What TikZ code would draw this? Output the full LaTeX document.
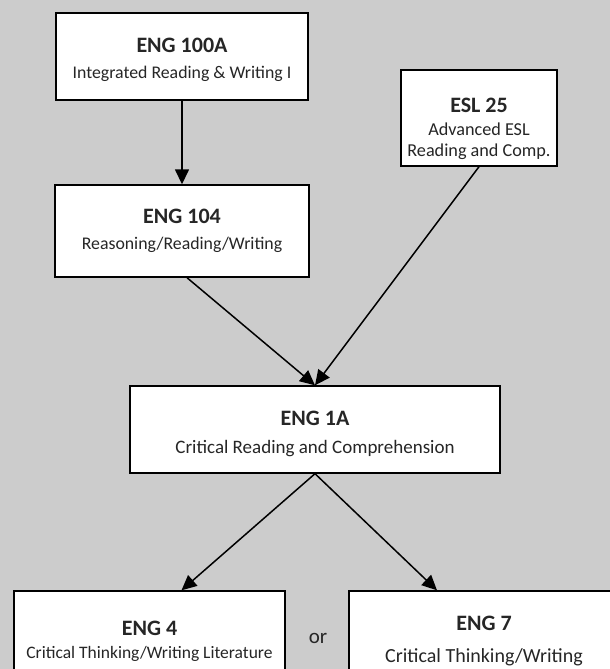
\documentclass[tikz,border=0pt]{standalone}
\usepackage{fontspec}
\setmainfont{Carlito}
\usetikzlibrary{positioning, arrows.meta}

\definecolor{panel}{RGB}{204,204,204}
\definecolor{ink}{RGB}{38,38,38}
\newcommand{\crstitle}{\fontsize{22}{26}\selectfont\bfseries}

\begin{document}
\begin{tikzpicture}[x=1pt, y=-1pt,
    course/.style={draw=black, fill=white, line width=1.4pt, align=center, text=ink, inner sep=0pt},
    conn/.style={line width=1.5pt, -{Triangle[length=15pt,width=14pt]}}]
            % fondo gris, recortado al tamano de la figura
            \useasboundingbox (0,0) rectangle (610,669);
            \clip (0,0) rectangle (610,669);
            \fill[panel] (0,0) rectangle (610,669);

            % cursos: \node[course, tamano] (nombre) at (x,y) {titulo \\ descripcion};
            \node[course, minimum width=252pt, minimum height=87pt, font=\fontsize{17.8}{26}\selectfont] (eng100a) at (182,56.5) {{\crstitle\rule{0pt}{22pt}ENG 100A}\\Integrated Reading \& Writing I};
            \node[course, minimum width=254pt, minimum height=92pt, font=\fontsize{17.8}{26}\selectfont] (eng104) at (182,231) {{\crstitle ENG 104}\\Reasoning/Reading/Writing};
            \node[course, minimum width=156pt, minimum height=96pt, font=\fontsize{18.2}{21}\selectfont] (esl25) at (479,118) {{\crstitle\rule{0pt}{36pt}ESL 25}\\[2pt]Advanced ESL\\Reading and Comp.};

            \node[course, minimum width=370pt, minimum height=87pt, font=\fontsize{19}{28}\selectfont] (eng1a) at (315,429.5) {{\crstitle\rule{0pt}{24pt}ENG 1A}\\Critical Reading and Comprehension};

            \node[course, minimum width=271pt, minimum height=100pt, font=\fontsize{17.5}{23}\selectfont] (eng4) at (149.5,641) {{\crstitle ENG 4}\\Critical Thinking/Writing Literature};
            \node[course, minimum width=270pt, minimum height=100pt, font=\fontsize{20}{32}\selectfont] (eng7) at (484,641) {{\crstitle ENG 7}\\Critical Thinking/Writing};
            \node[text=ink, font=\fontsize{21}{24}\selectfont] (or) at (318,638) {or};

            \draw[conn] (eng100a) -- (eng104);
            \draw[conn] ([xshift=5pt]eng104.south) -- (eng1a.north);
            \draw[conn] (esl25.south) -- (eng1a.north);
            \draw[conn] (eng1a.south) -- ([xshift=32pt]eng4.north);
            \draw[conn] (eng1a.south) -- ([xshift=-47pt]eng7.north);
        \end{tikzpicture}
\end{document}
